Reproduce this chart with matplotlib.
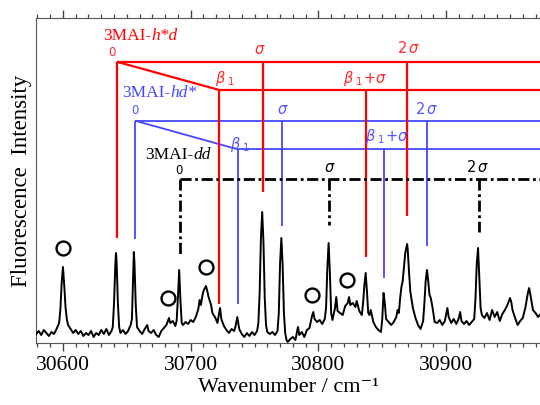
import matplotlib
matplotlib.use("Agg")
import matplotlib.pyplot as plt

# spectrum (wavenumber / cm-1, intensity in arbitrary units)
wn = [30579, 30581, 30583, 30585, 30587, 30589, 30591, 30593, 30595, 30597,
      30598, 30599, 30600, 30601, 30602, 30603, 30604, 30606, 30608, 30610,
      30612, 30614, 30616, 30618, 30620, 30622, 30624, 30626, 30628, 30630,
      30632, 30634, 30636, 30638, 30639, 30640, 30641, 30641.5, 30642, 30643,
      30644, 30645, 30647, 30649, 30651, 30653, 30654, 30655, 30655.5, 30656,
      30657, 30658, 30660, 30662, 30664, 30666, 30667, 30669, 30671, 30673,
      30675, 30677, 30679, 30681, 30683, 30684, 30686, 30688, 30689, 30690,
      30691, 30692, 30693, 30694, 30696, 30698, 30700, 30702, 30704, 30706,
      30707, 30708, 30709, 30710, 30712, 30713, 30714, 30716, 30717, 30719,
      30721, 30722, 30723, 30724, 30726, 30728, 30730, 30732, 30734, 30735,
      30736.5, 30738, 30740, 30742, 30744, 30746, 30748, 30750, 30752, 30753,
      30754, 30755, 30756, 30757, 30758, 30759, 30760, 30762, 30764, 30766,
      30768, 30769, 30770, 30771, 30772, 30773, 30774, 30775, 30776, 30778,
      30780, 30782, 30784, 30785, 30787, 30789, 30791, 30793, 30795, 30796,
      30797, 30799, 30801, 30803, 30805, 30806, 30807, 30808, 30809, 30810,
      30811, 30813, 30814, 30815, 30817, 30819, 30821, 30823, 30824, 30825,
      30827, 30829, 30830, 30832, 30834, 30835, 30836, 30837, 30838, 30839,
      30840, 30841, 30843, 30845, 30847, 30849, 30850, 30851, 30852, 30853,
      30855, 30857, 30859, 30861, 30862, 30863, 30864, 30865, 30866, 30868,
      30869.5, 30870, 30871, 30872, 30874, 30876, 30878, 30880, 30882, 30883,
      30884, 30885, 30886, 30887, 30888, 30889, 30890, 30891, 30893, 30895,
      30897, 30899, 30901, 30902, 30904, 30906, 30908, 30910, 30911, 30912,
      30914, 30916, 30918, 30920, 30922, 30923, 30924, 30925, 30926, 30927,
      30928, 30930, 30932, 30934, 30936, 30938, 30940, 30942, 30944, 30946,
      30948, 30950, 30951, 30952, 30954, 30956, 30958, 30960, 30962, 30964,
      30965, 30966, 30968, 30970, 30972, 30974]
inten = [9, 12, 8, 13, 10, 7, 11, 9, 14, 20,
         34, 60, 76, 58, 36, 24, 18, 14, 10, 13,
         9, 12, 7, 10, 8, 12, 6, 10, 8, 13,
         9, 14, 8, 12, 16, 40, 78, 90, 82, 40,
         16, 10, 13, 9, 12, 18, 24, 70, 91, 80,
         38, 16, 12, 9, 14, 18, 12, 10, 13, 8,
         6, 12, 15, 18, 25, 20, 22, 17, 22, 45,
         73, 42, 20, 18, 21, 19, 23, 21, 26, 34,
         43, 38, 46, 52, 57, 52, 46, 38, 30, 26,
         20, 28, 35, 24, 17, 13, 10, 14, 12, 16,
         26, 14, 9, 6, 10, 7, 11, 8, 12, 20,
         50, 105, 131, 100, 45, 18, 11, 9, 11, 8,
         12, 30, 80, 105, 78, 30, 10, 3, 1, 4,
         6, 3, 16, 8, 11, 6, 13, 15, 27, 31,
         24, 21, 23, 19, 24, 35, 75, 100, 70, 30,
         23, 35, 46, 32, 30, 28, 37, 40, 46, 38,
         40, 36, 42, 32, 28, 40, 58, 70, 52, 30,
         28, 33, 21, 16, 13, 11, 24, 50, 40, 24,
         21, 18, 21, 26, 33, 30, 45, 56, 62, 90,
         99, 92, 70, 51, 35, 25, 18, 14, 22, 40,
         62, 73, 62, 48, 45, 38, 30, 21, 20, 23,
         18, 22, 35, 26, 20, 24, 19, 25, 31, 22,
         19, 22, 18, 21, 24, 45, 80, 95, 65, 35,
         28, 25, 30, 23, 33, 26, 31, 22, 29, 33,
         38, 45, 41, 33, 25, 18, 22, 25, 35, 50,
         55, 48, 33, 30, 26, 29]

# band origins and progressions (cm-1) for the three isotopologues
red_pos = [30642, 30722.4, 30757, 30837, 30869.6]      # 0, b1, s, b1+s, 2s
blue_pos = [30656.4, 30736.8, 30771.7, 30851.6, 30885]
black_pos = [30691.6, 30808.5, 30925.8]                # 0, s, 2s

# circled peaks
circ_x = [30600, 30682.2, 30711.8, 30794.8, 30822.6]
circ_y = [94.7, 45, 76.3, 48, 63]

XMIN, XMAX = 30578.9, 30973.5
serif = ['Liberation Serif', 'DejaVu Serif']
RED, BLUE = '#ff0000', '#4646ff'

fig = plt.figure(figsize=(5.4, 4.05), dpi=100)
ax = fig.add_axes([36/540, 1 - 343/405, 1 - 36/540, 325/405])

ax.plot(wn, inten, color='k', lw=1.4, zorder=3)
ax.plot(circ_x, circ_y, 'o', mfc='none', mec='k', ms=10, mew=1.7, zorder=4)

# red ladder, 3MAI-h*d
x0, xb, xs, xbs, x2s = red_pos
top, lev = 281.3, 253
kw = dict(color=RED, lw=1.6, zorder=2, solid_capstyle='butt')
ax.plot([x0, XMAX], [top, top], **kw)
ax.plot([x0, xb], [top, lev], **kw)
ax.plot([xb, XMAX], [lev, lev], **kw)
ax.plot([x0, x0], [top, 105], **kw)
ax.plot([xb, xb], [lev, 39], **kw)
ax.plot([xs, xs], [top, 151], **kw)
ax.plot([x2s, x2s], [top, 127], **kw)
ax.plot([xbs, xbs], [lev, 86], **kw)

# blue ladder, 3MAI-hd*
x0, xb, xs, xbs, x2s = blue_pos
top, lev = 222.3, 193.7
kw = dict(color=BLUE, lw=1.3, zorder=1, solid_capstyle='butt')
ax.plot([x0, XMAX], [top, top], **kw)
ax.plot([x0, xb], [top, lev], **kw)
ax.plot([xb, XMAX], [lev, lev], **kw)
ax.plot([x0, x0], [top, 104], **kw)
ax.plot([xb, xb], [lev, 39], **kw)
ax.plot([xs, xs], [top, 117], **kw)
ax.plot([x2s, x2s], [top, 97], **kw)
ax.plot([xbs, xbs], [lev, 65], **kw)

# black ladder, 3MAI-dd
x0, xs, x2s = black_pos
top = 164
kw = dict(color='k', lw=2.0, dashes=(4, 1.3, 1.0, 1.3), zorder=2)
ax.plot([x0, XMAX], [top, top], **kw)
ax.plot([x0, x0], [top, 86], **kw)
ax.plot([xs, xs], [top, 118], **kw)
ax.plot([x2s, x2s], [top, 111], **kw)

# labels
def lab(x, y, s, c, size=10.5):
    ax.text(x, y, s, color=c, fontsize=size, ha='center', va='center')

def name(x, y, a, b, c):
    ax.text(x, y, a, color=c, fontsize=12.5, family=serif, ha='right', va='center')
    ax.text(x, y, b, color=c, fontsize=12.5, family=serif, style='italic',
            ha='left', va='center')

RT, BT = '#ff2a2a', '#5555ff'
name(30669.3, 307.5, '3MAI-', 'h*d', RED)
lab(30638.2, 291, '0', RT, 8.5)
lab(30754.3, 293, r'$\sigma$', RT)
lab(30871, 295, r'$2\,\sigma$', RT)
lab(30727, 264, r'$\beta_{\ 1}$', RT)
lab(30837, 265, r'$\beta_{\ 1}\!+\!\sigma$', RT)

name(30684, 250, '3MAI-', 'hd*', BLUE)
lab(30656, 232, '0', BT, 8.5)
lab(30739, 198, r'$\beta_{\ 1}$', BT)
lab(30772.3, 234, r'$\sigma$', BT)
lab(30885, 234, r'$2\,\sigma$', BT)
lab(30854, 207, r'$\beta_{\ 1}\!+\!\sigma$', BT)

name(30702, 188, '3MAI-', 'dd', 'k')
lab(30690.8, 172, '0', 'k', 8.5)
lab(30809, 175, r'$\sigma$', 'k')
lab(30925, 176, r'$2\,\sigma$', 'k')

ax.set_xlim(XMIN, XMAX)
ax.set_ylim(0, 325)
ax.set_xticks([30600, 30700, 30800, 30900])
ax.set_xticks(range(30580, 30980, 10), minor=True)
ax.tick_params(axis='x', which='both', direction='out', top=True, bottom=True,
               labeltop=False, colors='#444444', labelcolor='k', pad=4)
ax.tick_params(axis='x', which='major', length=5.5, width=1.0)
ax.tick_params(axis='x', which='minor', length=3, width=0.9)
ax.tick_params(axis='y', left=False, labelleft=False)
for lbl in ax.get_xticklabels():
    lbl.set_family(serif)
    lbl.set_fontsize(15.5)
for side in ['left', 'top', 'bottom']:
    ax.spines[side].set_color('#555555')
ax.spines['right'].set_visible(False)

ax.set_xlabel('Wavenumber / cm\u207b\u00b9', family=serif, fontsize=16, labelpad=2)
ax.set_ylabel('Fluorescence  Intensity', family=serif, fontsize=16.5, labelpad=3)

fig.savefig('out.png', dpi=100)
